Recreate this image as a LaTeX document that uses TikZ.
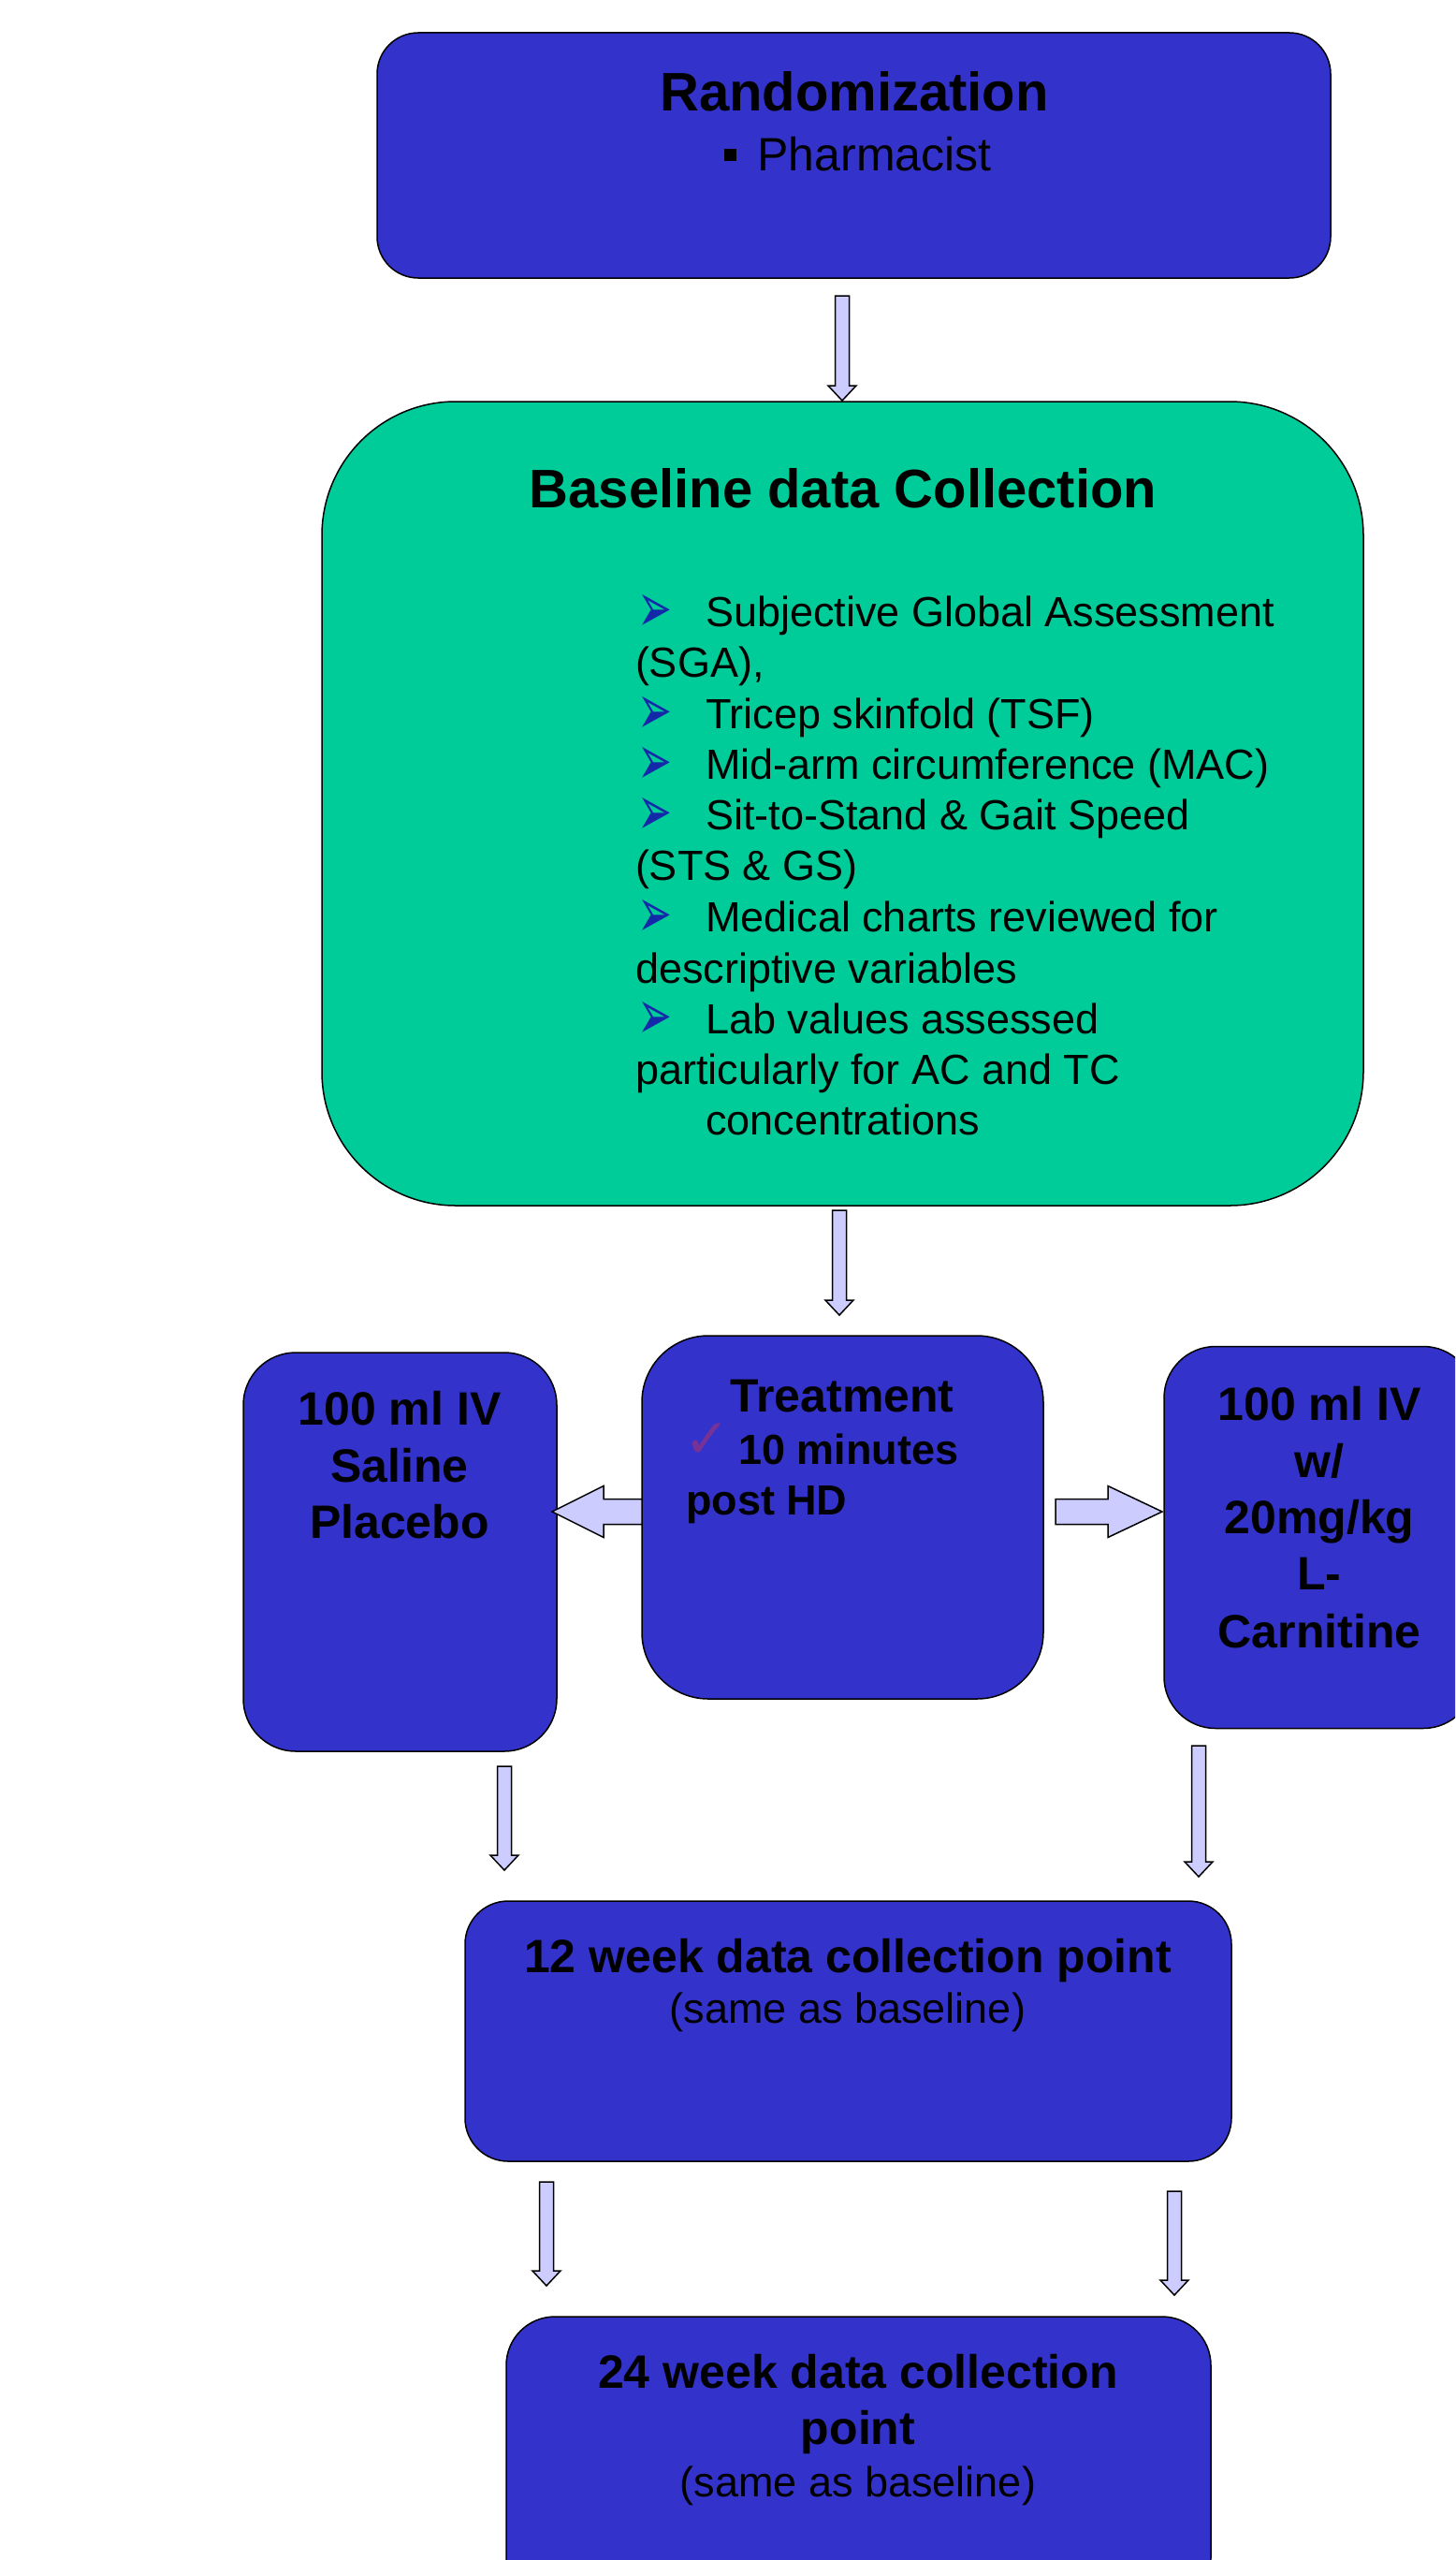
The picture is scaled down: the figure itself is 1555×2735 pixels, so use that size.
\documentclass[tikz,border=0pt]{standalone}
\usepackage{fontspec}
\usepackage{graphicx}
\setmainfont{Liberation Sans}
\newfontfamily\symfont{DejaVu Sans}
\usetikzlibrary{calc}

\definecolor{boxblue}{RGB}{51,51,204}
\definecolor{boxgreen}{RGB}{0,204,153}
\definecolor{arrowfill}{RGB}{204,204,255}
\definecolor{bulletblue}{RGB}{20,40,170}
\definecolor{tickpurple}{RGB}{120,50,150}

\newcommand\fsz[1]{\fontsize{#1}{#1}\selectfont}
\newcommand\bulletarrow{\makebox[75pt][l]{\hspace{2pt}\smash{\raisebox{-6pt}{\scalebox{0.76}[1.3]{\symfont\fsz{58}\color{bulletblue}➢}}}}}

% narrow block arrow pointing down, from #1 (top) to #2 (tip)
\newcommand\vblock[2]{%
  \draw[blockarrow] let \p1=(#1), \p2=(#2) in
    (\x1-7.5pt,\y1) -- (\x1+7.5pt,\y1) -- (\x1+7.5pt,\y2+16pt) -- (\x1+15pt,\y2+16pt)
    -- (\x1,\y2) -- (\x1-15pt,\y2+16pt) -- (\x1-7.5pt,\y2+16pt) -- cycle;}
% wide block arrow pointing left, from #1 (tail) to #2 (tip)
\newcommand\lblock[2]{%
  \draw[blockarrow] let \p1=(#1), \p2=(#2) in
    (\x1,\y1+13.5pt) -- (\x2+55pt,\y1+13.5pt) -- (\x2+55pt,\y1+27.5pt) -- (\x2,\y1)
    -- (\x2+55pt,\y1-27.5pt) -- (\x2+55pt,\y1-13.5pt) -- (\x1,\y1-13.5pt) -- cycle;}
% wide block arrow pointing right, from #1 (tail) to #2 (tip)
\newcommand\rblock[2]{%
  \draw[blockarrow] let \p1=(#1), \p2=(#2) in
    (\x1,\y1+13.5pt) -- (\x2-58pt,\y1+13.5pt) -- (\x2-58pt,\y1+27.5pt) -- (\x2,\y1)
    -- (\x2-58pt,\y1-27.5pt) -- (\x2-58pt,\y1-13.5pt) -- (\x1,\y1-13.5pt) -- cycle;}

\tikzset{
  panel/.style={rectangle, draw=black, line width=1.5pt, inner sep=0pt, outer sep=0pt},
  bluepanel/.style={panel, fill=boxblue},
  greenpanel/.style={panel, fill=boxgreen},
  txt/.style={inner sep=0pt, outer sep=0pt, text=black},
  blockarrow/.style={draw=black, fill=arrowfill, line width=1.5pt, line join=miter},
}

\begin{document}
\begin{tikzpicture}[x=1pt,y=-1pt]
\useasboundingbox (0,0) rectangle (1555,2735);
\clip (0,0) rectangle (1555,2735);

% ---- boxes ----
\node[bluepanel, rounded corners=44pt, minimum width=1019pt, minimum height=262pt] (rand) at (912.5,166) {};
\node[greenpanel, rounded corners=143pt, minimum width=1113pt, minimum height=859pt] (base) at (900.5,858.5) {};
\node[bluepanel, rounded corners=71pt, minimum width=429pt, minimum height=388pt] (treat) at (900.5,1621) {};
\node[bluepanel, rounded corners=56pt, minimum width=335pt, minimum height=426pt] (plc) at (427.5,1658) {};
\node[bluepanel, rounded corners=55pt, minimum width=332pt, minimum height=408pt] (carn) at (1410,1642.5) {};
\node[bluepanel, rounded corners=46pt, minimum width=819pt, minimum height=278pt] (wk12) at (906.5,2170) {};
\node[bluepanel, rounded corners=52pt, minimum width=753pt, minimum height=310pt] (wk24) at (917.5,2630) {};

% ---- randomization ----
\node[txt, anchor=base] (randT) at (913,119) {\fsz{58}\bfseries Randomization};
\node[txt, anchor=base] (randB) at (917,182) {\rule[10pt]{13pt}{13pt}\hspace{22pt}\fsz{50}Pharmacist};

% ---- baseline data collection ----
\node[txt, anchor=base] (baseT) at (901,542) {\fsz{58}\bfseries Baseline data Collection};
\begin{scope}[every node/.style={txt, anchor=base west, font=\fsz{45}}]
\node (b1)  at (679,669)  {\bulletarrow Subjective Global Assessment};
\node (b2)  at (679,723)  {(SGA),};
\node (b3)  at (679,778)  {\bulletarrow Tricep skinfold (TSF)};
\node (b4)  at (679,832)  {\bulletarrow Mid-arm circumference (MAC)};
\node (b5)  at (679,886)  {\bulletarrow Sit-to-Stand \& Gait Speed};
\node (b6)  at (679,940)  {(STS \& GS)};
\node (b7)  at (679,995)  {\bulletarrow Medical charts reviewed for};
\node (b8)  at (679,1050) {descriptive variables};
\node (b9)  at (679,1104) {\bulletarrow Lab values assessed};
\node (b10) at (679,1158) {particularly for AC and TC};
\node (b11) at (754,1212) {concentrations};
\end{scope}

% ---- treatment ----
\node[txt, anchor=base] (treatT) at (900,1508) {\fsz{50}\bfseries Treatment};
\node[txt, anchor=base west] (tick) at (731,1557) {\symfont\fsz{58}\color{tickpurple}✓};
\node[txt, anchor=base west] (treat1) at (789,1564) {\fsz{45}\bfseries 10 minutes};
\node[txt, anchor=base west] (treat2) at (733,1618) {\fsz{45}\bfseries post HD};

% ---- placebo arm ----
\node[txt, anchor=base] (plc1) at (427,1522) {\fsz{50}\bfseries 100 ml IV};
\node[txt, anchor=base] (plc2) at (427,1583) {\fsz{50}\bfseries Saline};
\node[txt, anchor=base] (plc3) at (427,1643) {\fsz{50}\bfseries Placebo};

% ---- carnitine arm ----
\node[txt, anchor=base] (carn1) at (1410,1517) {\fsz{50}\bfseries 100 ml IV};
\node[txt, anchor=base] (carn2) at (1410,1578) {\fsz{50}\bfseries w/};
\node[txt, anchor=base] (carn3) at (1410,1638) {\fsz{50}\bfseries 20mg/kg};
\node[txt, anchor=base] (carn4) at (1410,1698) {\fsz{50}\bfseries L-};
\node[txt, anchor=base] (carn5) at (1410,1760) {\fsz{50}\bfseries Carnitine};

% ---- follow-up points ----
\node[txt, anchor=base] (wk12T) at (906,2107) {\fsz{50}\bfseries 12 week data collection point};
\node[txt, anchor=base] (wk12B) at (906,2161) {\fsz{45}(same as baseline)};
\node[txt, anchor=base] (wk24T) at (917,2551) {\fsz{50}\bfseries 24 week data collection};
\node[txt, anchor=base] (wk24U) at (917,2611) {\fsz{50}\bfseries point};
\node[txt, anchor=base] (wk24B) at (917,2667) {\fsz{45}(same as baseline)};

% ---- connector end points ----
\coordinate (a1s) at (900,316);  \coordinate (a1e) at (900,428);
\coordinate (a2s) at (897,1293); \coordinate (a2e) at (897,1405);
\coordinate (a3s) at (539,1887); \coordinate (a3e) at (539,1998);
\coordinate (a4s) at (1281,1865); \coordinate (a4e) at (1281,2005);
\coordinate (a5s) at (584,2331); \coordinate (a5e) at (584,2442);
\coordinate (a6s) at (1255,2341); \coordinate (a6e) at (1255,2452);
\coordinate (hls) at ($(treat.west)+(0,-6)$);
\coordinate (hle) at ($(plc.east)+(-5,-43)$);
\coordinate (hrs) at ($(treat.east)+(13,-6)$);
\coordinate (hre) at ($(carn.west)+(-2,-27.5)$);

% ---- connectors ----
\vblock{a1s}{a1e}
\vblock{a2s}{a2e}
\lblock{hls}{hle}
\rblock{hrs}{hre}
\vblock{a3s}{a3e}
\vblock{a4s}{a4e}
\vblock{a5s}{a5e}
\vblock{a6s}{a6e}
\end{tikzpicture}
\end{document}
